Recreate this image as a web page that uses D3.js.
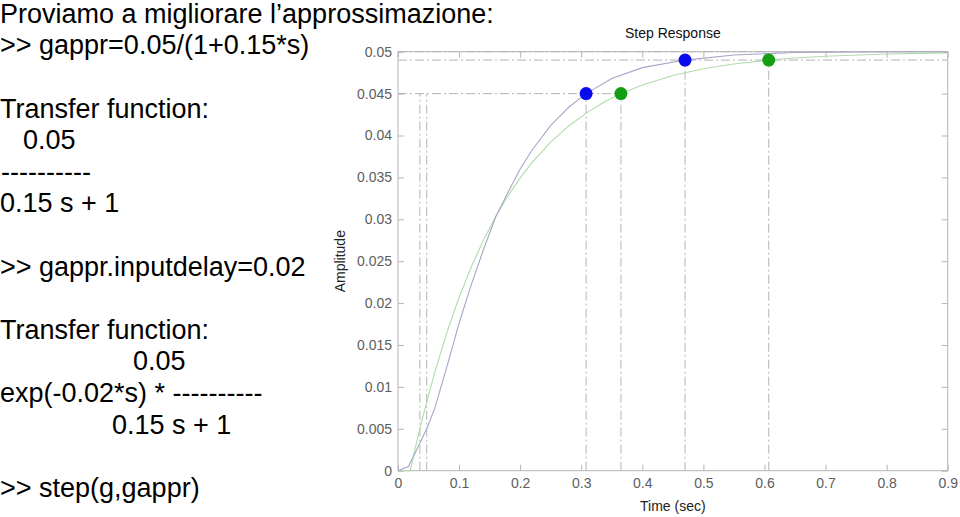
<!DOCTYPE html>
<html>
<head>
<meta charset="utf-8">
<script src="https://cdn.jsdelivr.net/npm/d3@7"></script>
<style>
  html, body { margin: 0; padding: 0; background: #fff; }
  svg { display: block; }
</style>
</head>
<body>
<svg id="chart" width="960" height="517"></svg>
<script>
// ---- console text (left side) ----
const consoleLines = [
  { text: "Proviamo a migliorare l\u2019approssimazione:", row: 0, indent: 0 },
  { text: ">> gappr=0.05/(1+0.15*s)", row: 1, indent: 0 },
  { text: "Transfer function:", row: 3, indent: 0 },
  { text: "0.05", row: 4, indent: 23 },
  { text: "----------", row: 5, indent: 1 },
  { text: "0.15 s + 1", row: 6, indent: 0 },
  { text: ">> gappr.inputdelay=0.02", row: 8, indent: 0 },
  { text: "Transfer function:", row: 10, indent: 0 },
  { text: "0.05", row: 11, indent: 133 },
  { text: "exp(-0.02*s) * ----------", row: 12, indent: 0 },
  { text: "0.15 s + 1", row: 13, indent: 112 },
  { text: ">> step(g,gappr)", row: 15, indent: 0 }
];

// ---- chart data ----
const chartTitle = "Step Response";
const xLabel = "Time (sec)";
const yLabel = "Amplitude";
const xTicks = [0, 0.1, 0.2, 0.3, 0.4, 0.5, 0.6, 0.7, 0.8, 0.9];
const xTickLabels = ["0", "0.1", "0.2", "0.3", "0.4", "0.5", "0.6", "0.7", "0.8", "0.9"];
const yTicks = [0, 0.005, 0.01, 0.015, 0.02, 0.025, 0.03, 0.035, 0.04, 0.045, 0.05];
const yTickLabels = ["0", "0.005", "0.01", "0.015", "0.02", "0.025", "0.03", "0.035", "0.04", "0.045", "0.05"];

// series g (original system)
const timeG = [0, 0.017, 0.03, 0.047, 0.06, 0.08, 0.1, 0.12, 0.14, 0.16, 0.18, 0.2, 0.22, 0.25, 0.28, 0.308, 0.35, 0.4, 0.47, 0.55, 0.65, 0.75, 0.9];
const ampG  = [0, 0.0005, 0.0024, 0.005, 0.0074, 0.0124, 0.0176, 0.0222, 0.0264, 0.0303, 0.0332, 0.036, 0.0383, 0.0412, 0.0434, 0.045, 0.0468, 0.0481, 0.049, 0.0496, 0.0499, 0.04997, 0.05];

// series gappr (first-order approximation with delay)
const timeA = [0, 0.02, 0.03, 0.04, 0.06, 0.08, 0.1, 0.12, 0.14, 0.16, 0.18, 0.2, 0.22, 0.25, 0.28, 0.31, 0.34, 0.365, 0.4, 0.45, 0.5, 0.55, 0.607, 0.65, 0.7, 0.8, 0.9];
const ampA  = [0, 0, 0.00323, 0.00624, 0.0117, 0.01648, 0.02067, 0.02433, 0.02753, 0.03034, 0.0328, 0.03494, 0.03682, 0.03921, 0.04117, 0.04276, 0.04408, 0.04498, 0.04603, 0.04716, 0.04796, 0.04854, 0.049, 0.04925, 0.04946, 0.04972, 0.04986];

// characteristic markers
const finalValue = 0.05;
const riseLevel = 0.045;     // 90 %
const settleLevel = 0.049;   // 98 %
const riseStartTimes = [0.0358, 0.047];
const markerTimes = [0.308, 0.47, 0.365, 0.607];
const markerValues = [0.045, 0.049, 0.045, 0.049];
const markerSeries = ["g", "g", "gappr", "gappr"];

// ---- drawing ----
const svg = d3.select("#chart");
const FONT = "'Liberation Sans', Arial, Helvetica, sans-serif";

// console text
const textG = svg.append("g").attr("font-family", FONT).attr("font-size", 27).attr("fill", "#000");
textG.selectAll("text").data(consoleLines).join("text")
  .attr("x", d => d.indent)
  .attr("y", d => 22.7 + 31.6 * d.row)
  .style("white-space", "pre")
  .text(d => d.text);

// scales
const x = d3.scaleLinear().domain([0, 0.9]).range([398, 947.7]);
const y = d3.scaleLinear().domain([0, 0.05]).range([470.7, 51.7]);

const axisColor = "#b4b4b4";
const labelColor = "#5e5e5e";

// frame
svg.append("rect")
  .attr("x", x(0)).attr("y", y(0.05))
  .attr("width", x(0.9) - x(0)).attr("height", y(0) - y(0.05))
  .attr("fill", "#fff").attr("stroke", axisColor).attr("stroke-width", 1);

function styleAxis(g, showLabels) {
  g.select(".domain").remove();
  g.selectAll(".tick line").attr("stroke", axisColor);
  g.selectAll(".tick text").attr("fill", labelColor).attr("font-family", FONT).attr("font-size", 14);
  if (!showLabels) g.selectAll(".tick text").remove();
}

svg.append("g").attr("transform", `translate(0,${y(0)})`)
  .call(d3.axisBottom(x).tickValues(xTicks).tickFormat((d, i) => xTickLabels[i]).tickSize(-6).tickPadding(7.5))
  .call(g => styleAxis(g, true));
svg.append("g").attr("transform", `translate(0,${y(0.05)})`)
  .call(d3.axisTop(x).tickValues(xTicks).tickSize(-6))
  .call(g => styleAxis(g, false));
svg.append("g").attr("transform", `translate(${x(0)},0)`)
  .call(d3.axisLeft(y).tickValues(yTicks).tickFormat((d, i) => yTickLabels[i]).tickSize(-6).tickPadding(6))
  .call(g => styleAxis(g, true));
svg.append("g").attr("transform", `translate(${x(0.9)},0)`)
  .call(d3.axisRight(y).tickValues(yTicks).tickSize(-6))
  .call(g => styleAxis(g, false));

// characteristic dashed lines
const dash = "9,3,2,3";
const dl = svg.append("g").attr("stroke", "#b4b4b4").attr("stroke-width", 1).attr("stroke-dasharray", dash).attr("fill", "none");
dl.append("line").attr("x1", x(0)).attr("x2", x(0.9)).attr("y1", y(finalValue)).attr("y2", y(finalValue));
dl.append("line").attr("x1", x(0)).attr("x2", x(0.9)).attr("y1", y(settleLevel)).attr("y2", y(settleLevel));
dl.append("line").attr("x1", x(0)).attr("x2", x(d3.max(markerTimes.filter((t, i) => markerValues[i] === riseLevel))))
  .attr("y1", y(riseLevel)).attr("y2", y(riseLevel));
dl.selectAll(".rs").data(riseStartTimes).join("line")
  .attr("x1", d => x(d)).attr("x2", d => x(d)).attr("y1", y(0)).attr("y2", y(riseLevel));
dl.selectAll(".mv").data(markerTimes).join("line")
  .attr("x1", d => x(d)).attr("x2", d => x(d)).attr("y1", y(0)).attr("y2", (d, i) => y(markerValues[i]));

// curves
const line = d3.line().x(d => x(d[0])).y(d => y(d[1]));
svg.append("path").datum(timeA.map((t, i) => [t, ampA[i]]))
  .attr("d", line).attr("fill", "none").attr("stroke", "#b0dcaa").attr("stroke-width", 1.1);
svg.append("path").datum(timeG.map((t, i) => [t, ampG[i]]))
  .attr("d", line).attr("fill", "none").attr("stroke", "#a6a6c6").attr("stroke-width", 1.1);

// markers
const markerColor = { g: "#0a0af0", gappr: "#12a012" };
svg.selectAll(".mk").data(markerTimes).join("circle")
  .attr("cx", d => x(d)).attr("cy", (d, i) => y(markerValues[i]))
  .attr("r", 6.5).attr("fill", (d, i) => markerColor[markerSeries[i]]);

// titles
svg.append("text").attr("x", (x(0) + x(0.9)) / 2).attr("y", 38.3)
  .attr("text-anchor", "middle").attr("font-family", FONT).attr("font-size", 14).attr("fill", "#111")
  .text(chartTitle);
svg.append("text").attr("x", (x(0) + x(0.9)) / 2).attr("y", 511)
  .attr("text-anchor", "middle").attr("font-family", FONT).attr("font-size", 14).attr("fill", "#222")
  .text(xLabel);
svg.append("text").attr("transform", `translate(345,${(y(0) + y(0.05)) / 2}) rotate(-90)`)
  .attr("text-anchor", "middle").attr("font-family", FONT).attr("font-size", 14).attr("fill", "#222")
  .text(yLabel);
</script>
</body>
</html>
